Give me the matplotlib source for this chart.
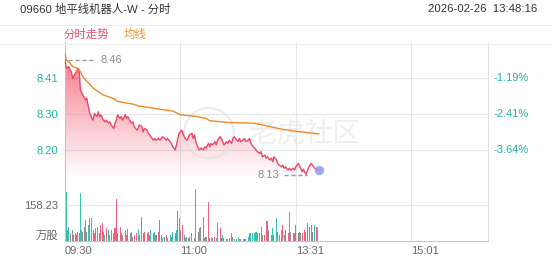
import numpy as np
import matplotlib

matplotlib.use("Agg")
import matplotlib.pyplot as plt
from matplotlib.patches import Polygon, Ellipse

plt.rcParams["font.family"] = ["Liberation Sans", "Noto Sans CJK SC", "DejaVu Sans"]

# ---- data (minutes since 09:30, lunch break removed) ----
price_minutes = [0, 1, 3, 4, 5, 6, 8, 9, 10, 11, 12, 14, 16, 17, 18, 19, 21, 22, 23, 25,
                 26, 27, 28, 30, 31, 32, 34, 35, 36, 38, 39, 40, 41, 43, 44, 45, 47, 48, 49, 51,
                 52, 53, 54, 56, 57, 58, 60, 61, 62, 64, 65, 66, 67, 69, 70, 71, 73, 74, 75, 76,
                 78, 79, 80, 82, 83, 84, 86, 87, 88, 89, 91, 92, 93, 95, 96, 97, 99, 100, 101, 102,
                 104, 105, 106, 108, 109, 110, 112, 113, 114, 115, 117, 118, 119, 121, 122, 123, 124, 126, 127, 128,
                 130, 131, 132, 134, 135, 136, 137, 139, 140, 141, 143, 144, 145, 147, 148, 149, 150, 152, 153, 154,
                 156, 157, 158, 160, 161, 162, 163, 165, 166, 167, 169, 170, 171, 172, 174, 175, 176, 178, 179, 180,
                 182, 183, 185, 186, 188, 190, 192, 193, 195, 196, 198]
price_values = [8.460, 8.436, 8.441, 8.431, 8.426, 8.407, 8.422, 8.426, 8.436, 8.433, 8.374, 8.359, 8.345, 8.350, 8.330, 8.311, 8.292, 8.287, 8.306, 8.297,
                8.311, 8.297, 8.302, 8.287, 8.282, 8.287, 8.278, 8.282, 8.273, 8.263, 8.278, 8.287, 8.302, 8.292, 8.297, 8.287, 8.302, 8.292, 8.297, 8.282,
                8.278, 8.282, 8.268, 8.258, 8.263, 8.273, 8.268, 8.253, 8.263, 8.258, 8.249, 8.244, 8.239, 8.229, 8.234, 8.229, 8.234, 8.229, 8.234, 8.239,
                8.234, 8.229, 8.234, 8.225, 8.220, 8.210, 8.201, 8.215, 8.234, 8.249, 8.258, 8.249, 8.239, 8.229, 8.234, 8.244, 8.249, 8.234, 8.244, 8.225,
                8.206, 8.201, 8.206, 8.201, 8.210, 8.206, 8.220, 8.210, 8.220, 8.215, 8.225, 8.215, 8.229, 8.239, 8.234, 8.225, 8.215, 8.225, 8.220, 8.229,
                8.220, 8.234, 8.239, 8.229, 8.225, 8.234, 8.225, 8.229, 8.234, 8.225, 8.229, 8.234, 8.220, 8.210, 8.206, 8.201, 8.196, 8.191, 8.196, 8.181,
                8.186, 8.177, 8.181, 8.172, 8.177, 8.167, 8.181, 8.172, 8.162, 8.157, 8.152, 8.157, 8.148, 8.152, 8.143, 8.148, 8.143, 8.148, 8.143, 8.152,
                8.162, 8.155, 8.138, 8.145, 8.130, 8.150, 8.162, 8.157, 8.148, 8.143, 8.143]

avg_minutes = [0, 1, 4, 6, 10, 12, 14, 17, 20, 22, 26, 30, 35, 39, 40, 45, 53, 58, 66, 74,
               84, 87, 90, 96, 103, 110, 113, 128, 147, 154, 160, 170, 180, 191, 198]
avg_values = [8.479, 8.460, 8.451, 8.441, 8.436, 8.426, 8.412, 8.398, 8.388, 8.379, 8.369, 8.359, 8.353, 8.347, 8.342, 8.338, 8.333, 8.327, 8.323, 8.318,
              8.313, 8.308, 8.302, 8.300, 8.297, 8.292, 8.285, 8.280, 8.278, 8.273, 8.268, 8.260, 8.255, 8.250, 8.247]

vol_minutes = [0, 1, 2, 3, 4, 6, 7, 8, 9, 10, 11, 12, 13, 14, 15, 16, 17, 18, 19, 21,
               22, 23, 24, 25, 27, 28, 29, 30, 31, 32, 34, 35, 36, 38, 39, 40, 41, 43, 44, 45,
               47, 48, 49, 51, 52, 53, 54, 56, 57, 58, 60, 61, 62, 64, 65, 66, 67, 69, 70, 71,
               73, 74, 75, 76, 78, 79, 80, 82, 83, 84, 86, 87, 88, 89, 90, 92, 93, 94, 95, 96,
               97, 99, 101, 102, 104, 105, 106, 108, 109, 110, 112, 113, 114, 115, 117, 118, 119, 121, 122, 123,
               124, 126, 127, 128, 130, 131, 132, 134, 135, 136, 137, 139, 140, 141, 143, 144, 145, 146, 148, 149,
               150, 152, 153, 154, 156, 157, 158, 159, 161, 162, 163, 165, 166, 167, 169, 170, 171, 172, 174, 175,
               176, 178, 179, 180, 182, 183, 184, 185, 187, 188, 189, 191, 192, 193, 195, 196, 197]
vol_values = [126, 215, 48, 63, 34, 48, 26, 34, 26, 41, 34, 209, 48, 41, 63, 92, 41, 70, 100, 100,
              48, 34, 56, 63, 34, 70, 78, 41, 26, 56, 48, 26, 48, 34, 56, 185, 34, 63, 34, 26,
              48, 26, 51, 34, 41, 19, 26, 34, 51, 26, 107, 34, 41, 34, 41, 26, 48, 34, 41, 26,
              41, 92, 26, 12, 19, 26, 12, 26, 19, 41, 34, 48, 133, 100, 48, 70, 26, 12, 19, 12,
              19, 34, 12, 227, 41, 56, 63, 104, 12, 19, 173, 12, 19, 12, 19, 12, 81, 56, 12, 26,
              12, 9, 7, 12, 34, 19, 7, 10, 16, 7, 10, 7, 7, 10, 16, 34, 37, 37, 37, 41,
              34, 37, 63, 26, 26, 89, 89, 48, 26, 56, 26, 100, 41, 26, 48, 70, 26, 48, 34, 129,
              41, 34, 34, 70, 34, 41, 34, 34, 48, 41, 78, 63, 70, 41, 70, 63, 63]
vol_dirs = "ggngnnnrrnrggnnrnggg" \
           "nrrrnrrngrgngrrrnrgn" \
           "grrnrnrrgnrnrgrngrgn" \
           "rrngnrngngrgrrnrnggn" \
           "nrngngnrnnrngnrnrrng" \
           "nngnrnnggnngnngggggg" \
           "rgrnrrrnngngnrgrnnrg" \
           "nnrrngnrrnrnrngrg"

price_tick_labels = ["8.41", "8.30", "8.20"]
pct_tick_labels = ["-1.19%", "-2.41%", "-3.64%"]
vol_tick_value = 158.23
time_tick_minutes = [0, 90, 180, 270]
time_tick_labels = ["09:30", "11:00", "13:31", "15:01"]

PRICE_TOP = 8.512
PRICE_BOTTOM = 8.097
SESSION_MINUTES = 330

W, H = 552, 265
RED = "#ee4564"
ORANGE = "#f0892a"
TEAL = "#22b3a4"
GRID = "#e6e6e6"
dir_colors = {"r": "#f2607c", "g": "#35c2b2", "n": "#8a8f93"}


def fx(px):
    return px / W


def fy(py):
    return 1 - py / H


fig = plt.figure(figsize=(W / 100, H / 100), dpi=100)

# header
fig.text(fx(20), fy(9), "09660 地平线机器人-W - 分时", fontsize=8.2, color="#333333",
         ha="left", va="center")
fig.text(fx(537), fy(9), "2026-02-26  13:48:16", fontsize=8.2, color="#333333",
         ha="right", va="center")
fig.text(fx(64), fy(34), "分时走势", fontsize=8.2, color="#ea4d69", ha="left", va="center")
fig.text(fx(124), fy(34), "均线", fontsize=8.2, color="#f0952f", ha="left", va="center")
for yy in (25, 44):
    fig.add_artist(plt.Line2D([0, 1], [fy(yy), fy(yy)], color="#ededed", lw=0.8))

ax = fig.add_axes([fx(65), fy(186), fx(488) - fx(65), fy(42) - fy(186)])
axv = fig.add_axes([fx(65), fy(241), fx(488) - fx(65), fy(186) - fy(241)])

t = np.array(price_minutes, dtype=float)
p = np.array(price_values)

# grid
price_ticks = np.linspace(PRICE_TOP, PRICE_BOTTOM, 5)[1:4]
for a in (ax, axv):
    a.set_xlim(0, SESSION_MINUTES)
    for m in time_tick_minutes[1:]:
        a.axvline(m, color=GRID, lw=0.8, zorder=0)
for v in price_ticks:
    ax.axhline(v, color=GRID, lw=0.8, zorder=0)
axv.axhline(vol_tick_value, color=GRID, lw=0.8, zorder=0)

ax.set_ylim(PRICE_BOTTOM, PRICE_TOP)

# gradient fill under the price line
grad = np.zeros((256, 1, 4))
grad[:, 0, :3] = (0.96, 0.33, 0.42)
grad[:, 0, 3] = np.clip(np.linspace(-0.05, 0.85, 256), 0, 1)
im = ax.imshow(grad, extent=[t[0], t[-1], PRICE_BOTTOM, PRICE_TOP], origin="lower",
               aspect="auto", zorder=1, interpolation="bilinear")
verts = [(t[0], PRICE_BOTTOM)] + list(zip(t, p)) + [(t[-1], PRICE_BOTTOM)]
clip = Polygon(verts, closed=True, facecolor="none", edgecolor="none")
ax.add_patch(clip)
im.set_clip_path(clip)

ax.plot(t, p, color=RED, lw=1.0, zorder=3)
ax.plot(avg_minutes, avg_values, color=ORANGE, lw=1.0, zorder=3)
ax.scatter([t[-1]], [p[-1]], s=45, color="#8d9bef", alpha=0.85, zorder=4, linewidths=0)

# high / low markers
i_hi, i_lo = int(np.argmax(p)), int(np.argmin(p))
ax.plot([t[i_hi] + 2, t[i_hi] + 23], [p[i_hi]] * 2, ls=(0, (3, 2)), color="#9a9a9a", lw=1.0, zorder=3)
ax.text(t[i_hi] + 28, p[i_hi], f"{p[i_hi]:.2f}", color="#8c8c8c", fontsize=8, ha="left", va="center")
ax.plot([t[i_lo] - 17, t[i_lo] + 1], [p[i_lo]] * 2, ls=(0, (3, 2)), color="#9a9a9a", lw=1.0, zorder=3)
ax.text(t[i_lo] - 21, p[i_lo], f"{p[i_lo]:.2f}", color="#8c8c8c", fontsize=8, ha="right", va="center")

# watermark
ax.add_patch(Ellipse((0.340, 0.368), 50 / 423, 50 / 144, transform=ax.transAxes, fill=False,
                     ec="#dedede", lw=1.6, alpha=0.6, zorder=2))
ax.text(0.567, 0.354, "老虎社区", transform=ax.transAxes, fontsize=20, color="#e0e0e0",
        alpha=0.55, ha="center", va="center", zorder=2)

ax.set_yticks(price_ticks, price_tick_labels)
ax.tick_params(axis="y", length=0, pad=5, labelsize=8, labelcolor=TEAL)
ax.set_xticks([])
for v, lab in zip(price_ticks, pct_tick_labels):
    ax.text(1.014, v, lab, transform=ax.get_yaxis_transform(), color=TEAL,
            fontsize=8, ha="left", va="center")

# volume
vt = np.array(vol_minutes)
vv = np.array(vol_values)
cols = [dir_colors[c] for c in vol_dirs]
axv.bar(vt, vv, width=0.8, color=cols, linewidth=0, zorder=2)
axv.set_ylim(0, vol_tick_value * 55 / 36)
axv.set_yticks([vol_tick_value], [f"{vol_tick_value:.2f}"])
axv.tick_params(axis="y", length=0, pad=5, labelsize=8, labelcolor="#666666")
axv.text(-0.015, 0.1, "万股", transform=axv.transAxes, color="#666666", fontsize=8.2,
         ha="right", va="center")
axv.set_xticks(time_tick_minutes, time_tick_labels)
for lab in axv.get_xticklabels():
    lab.set_horizontalalignment("left")
axv.tick_params(axis="x", length=0, pad=3.5, labelsize=8, labelcolor="#666666")

for s in ("top", "bottom"):
    ax.spines[s].set_visible(False)
axv.spines["top"].set_visible(False)
for a in (ax, axv):
    a.spines["left"].set_color("#c4c4c4")
    a.spines["right"].set_color("#e2e2e2")
    a.spines["left"].set_linewidth(0.8)
    a.spines["right"].set_linewidth(0.8)
axv.spines["bottom"].set_color("#c4c4c4")
axv.spines["bottom"].set_linewidth(0.8)
ax.set_facecolor("none")
axv.set_facecolor("none")

fig.savefig("out.png", dpi=100)
